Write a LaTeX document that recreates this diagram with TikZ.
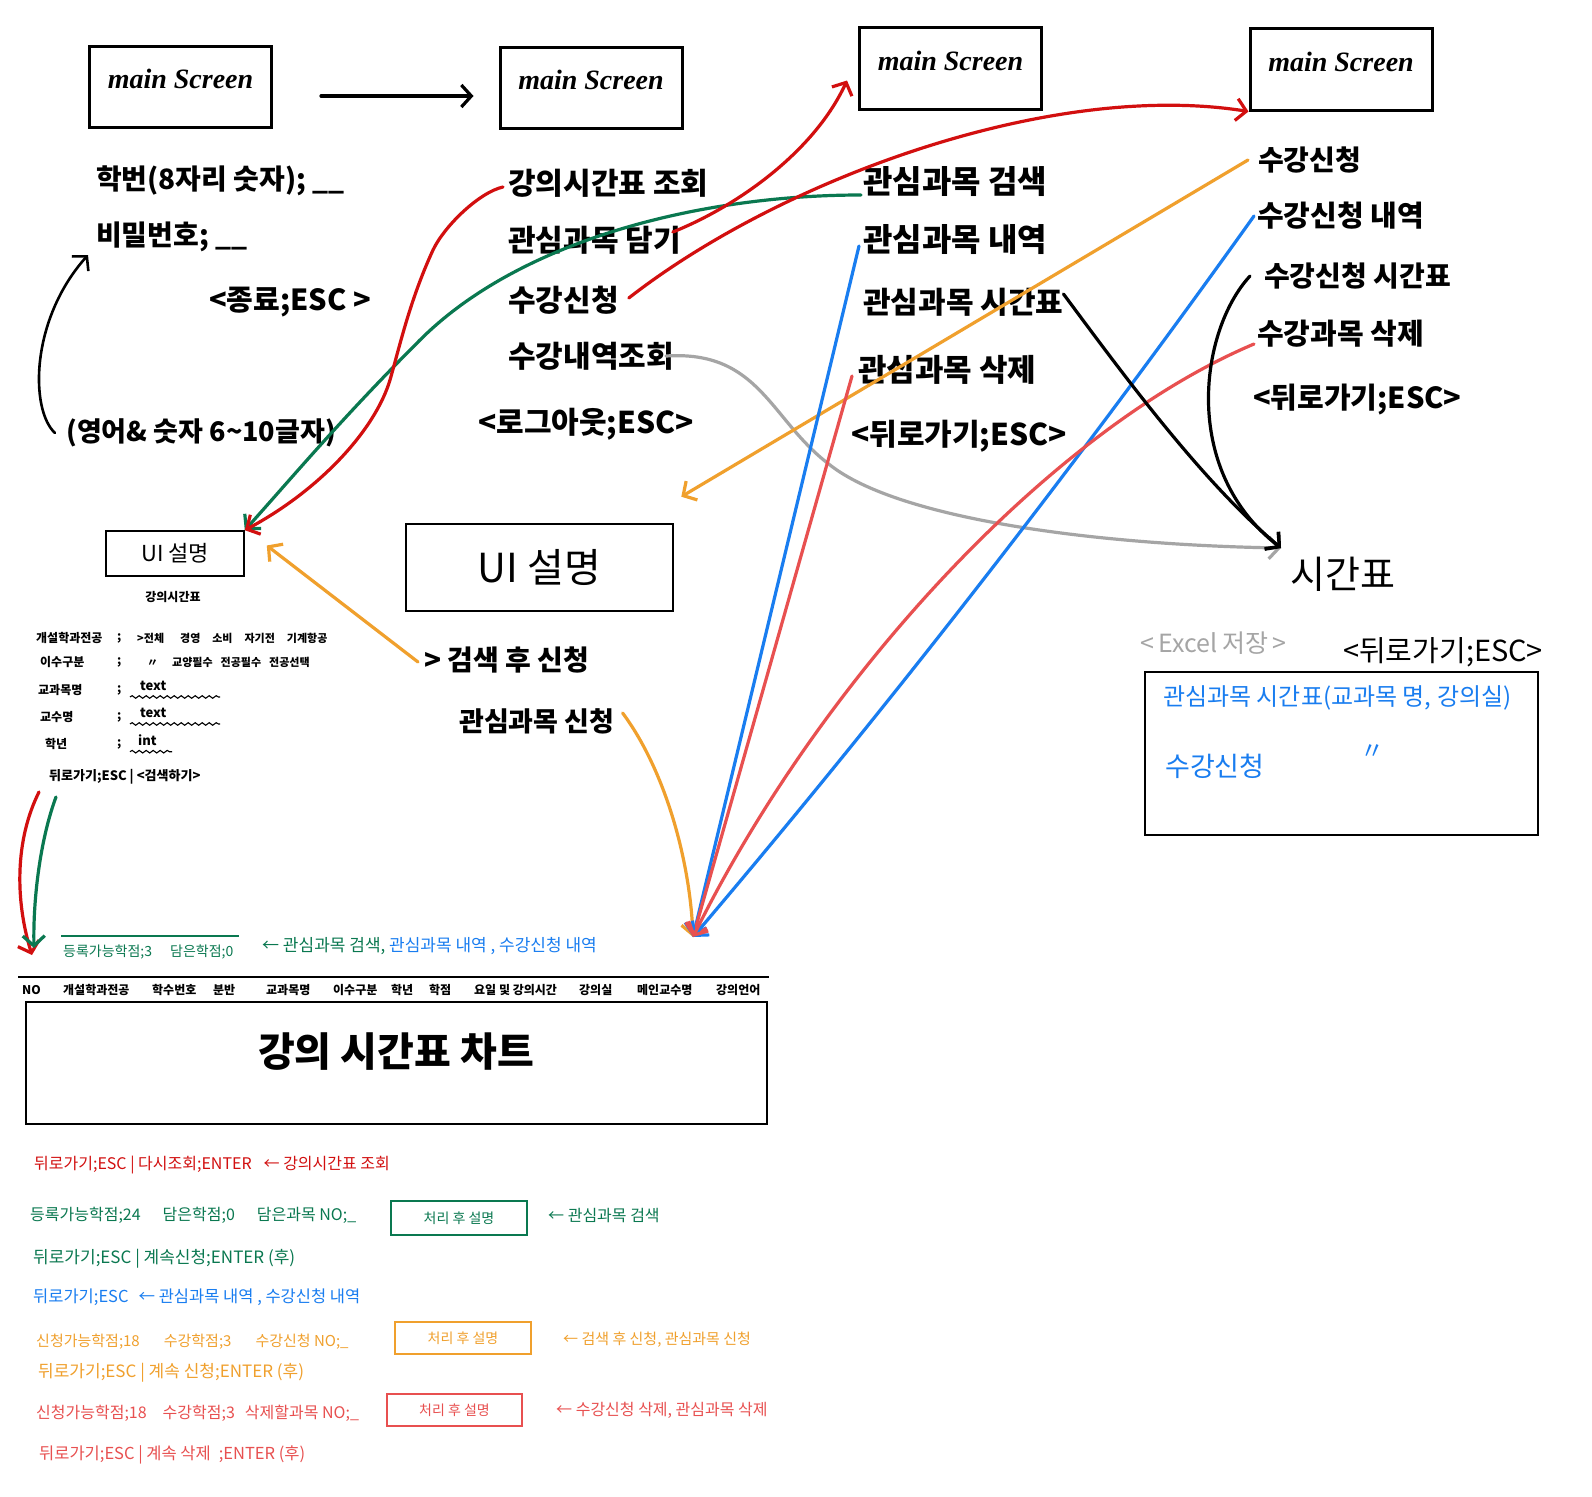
\documentclass[tikz,border=0pt]{standalone}
\usepackage{fontspec}
\setmainfont{Noto Sans CJK KR}
\newfontfamily\scrfont{Liberation Serif}
\usetikzlibrary{arrows.meta,decorations.pathmorphing}
\definecolor{dred}{HTML}{D20F0F}
\definecolor{grn}{HTML}{0A7850}
\definecolor{blu}{HTML}{197DF0}
\definecolor{org}{HTML}{F0A02D}
\definecolor{sal}{HTML}{E85050}
\definecolor{gry}{HTML}{A5A5A5}
\begin{document}
\begin{tikzpicture}[x=1pt,y=-1pt,
  txt/.style={inner sep=0pt,anchor=west},
  fs/.style={font=\fontsize{#1}{#1}\selectfont},
  fsb/.style={font=\fontsize{#1}{#1}\selectfont\bfseries},
  scrbox/.style={draw,line width=3pt,minimum width=182pt,minimum height=80pt,inner sep=0pt,font=\scrfont\fontsize{28}{30}\selectfont\bfseries\itshape},
  conn/.style={line width=3.2pt,line cap=round,-{Straight Barb[length=10pt,width=22pt]}},
  thinbox/.style={draw,line width=1.6pt,inner sep=0pt},
  wavy/.style={line width=1.1pt,decorate,decoration={snake,amplitude=1.3pt,segment length=7pt}},
]
\fill[white] (0,0) rectangle (1592,1496);
\useasboundingbox (0,0) rectangle (1592,1496);

% ---------- main screens ----------
\node[scrbox] (s1) at (180.5,87) {\raisebox{16pt}{main Screen}};
\node[scrbox] (s2) at (591,88) {\raisebox{16pt}{main Screen}};
\node[scrbox,minimum height=81pt] (s3) at (950.5,68.5) {\raisebox{16pt}{main Screen}};
\node[scrbox,minimum height=81pt] (s4) at (1341,69.5) {\raisebox{16pt}{main Screen}};

% ---------- login ----------
\node[txt,fsb=28] (l1) at (96,181) {학번(8자리 숫자); \_\_};
\node[txt,fsb=28] (l2) at (96,237) {비밀번호; \_\_};
\node[fsb=29,inner sep=0pt] (l3) at (290,302) {<종료;ESC >};
\node[txt,fsb=27] (l4) at (66,433) {(영어\& 숫자 6\textasciitilde10글자)};

% ---------- screen 2 menu ----------
\node[txt,fsb=30] (m2a) at (508,183) {강의시간표 조회};
\node[txt,fsb=30] (m2b) at (508,240) {관심과목 담기};
\node[txt,fsb=30] (m2c) at (508,300) {수강신청};
\node[txt,fsb=30] (m2d) at (508,356) {수강내역조회};
\node[txt,fsb=30] (m2e) at (478,424) {<로그아웃;ESC>};

% ---------- screen 3 menu ----------
\node[txt,fsb=32] (m3a) at (863,182) {관심과목 검색};
\node[txt,fsb=32] (m3b) at (863,240) {관심과목 내역};
\node[txt,fsb=30] (m3c) at (863,302) {관심과목 시간표};
\node[txt,fsb=31] (m3d) at (858,370) {관심과목 삭제};
\node[txt,fsb=30] (m3e) at (851,436) {<뒤로가기;ESC>};

% ---------- screen 4 menu ----------
\node[txt,fsb=28] (m4a) at (1258,160) {수강신청};
\node[txt,fsb=29] (m4b) at (1257,216) {수강신청 내역};
\node[txt,fsb=28] (m4c) at (1264,276) {수강신청 시간표};
\node[txt,fsb=29] (m4d) at (1257,334) {수강과목 삭제};
\node[txt,fsb=29] (m4e) at (1253,400) {<뒤로가기;ESC>};

% ---------- timetable screen ----------
\node[txt,fs=38] (tt) at (1290,574) {시간표};
\coordinate (ttip) at ([xshift=-9pt,yshift=26pt]tt.west);
\node[txt,fs=25,text=gry] (ex) at (1140,643) {<\,Excel 저장\,>};
\node[txt,fs=29] (tb) at (1343,652) {<뒤로가기;ESC>};
\node[draw,line width=2.6pt,minimum width=393pt,minimum height=163pt,inner sep=0pt] (tbox) at (1341.5,753.5) {};
\node[txt,fs=24,text=blu] (bt1) at (1163,698) {관심과목 시간표(교과목 명, 강의실)};
\node[txt,fs=27,text=blu] (bt2) at (1165,766) {수강신청};
\node[txt,fs=24,text=blu] (bt3) at (1360,752) {〃};

% ---------- small UI box ----------
\node[thinbox,minimum width=138pt,minimum height=45pt,fs=22] (ui1) at (175,553.5) {UI 설명};
\node[fsb=12,inner sep=0pt] (ui1t) at (173,597) {강의시간표};
\node[txt,fsb=12] (t1) at (36,638) {개설학과전공};
\node[txt,fsb=12] (t1s) at (117,638) {;};
\node[txt,fsb=11] (t1v) at (137,638) {>전체\hspace{16pt}경영\hspace{12pt}소비\hspace{12pt}자기전\hspace{12pt}기계항공};
\node[txt,fsb=12] (t2) at (40,662) {이수구분};
\node[txt,fsb=12] (t2s) at (117,662) {;};
\node[txt,fsb=11] (t2v) at (147,662) {〃\hspace{14pt}교양필수\hspace{8pt}전공필수\hspace{8pt}전공선택};
\node[txt,fsb=12] (t3) at (38,690) {교과목명};
\node[txt,fsb=12] (t3s) at (117,690) {;};
\node[txt,fsb=13] (t3v) at (140,686) {text};
\node[txt,fsb=12] (t4) at (40,717) {교수명};
\node[txt,fsb=12] (t4s) at (117,717) {;};
\node[txt,fsb=13] (t4v) at (140,713) {text};
\node[txt,fsb=12] (t5) at (45,744) {학년};
\node[txt,fsb=12] (t5s) at (117,744) {;};
\node[txt,fsb=13] (t5v) at (138,740) {int};
\node[txt,fsb=13] (r6) at (49,777) {뒤로가기;ESC | <검색하기>};
\draw[wavy] ([xshift=-10pt,yshift=-6pt]t3v.south west) -- ++(90,0);
\draw[wavy] ([xshift=-10pt,yshift=-6pt]t4v.south west) -- ++(90,0);
\draw[wavy] ([xshift=-8pt,yshift=-6pt]t5v.south west) -- ++(42,0);

% ---------- big UI box ----------
\node[draw,line width=2.6pt,minimum width=267pt,minimum height=87pt,inner sep=0pt,fs=40] (ui2) at (539.5,567.5) {UI 설명};
\node[txt,fsb=28] (o1) at (424,660) {> 검색 후 신청};
\node[txt,fsb=27] (o2) at (459,721) {관심과목 신청};

% ---------- bottom table ----------
\coordinate (conv) at (693,937);
\draw[grn,line width=1.6pt] (61,936) -- (239,936);
\node[txt,fs=14,text=grn] (g0) at (63,952) {등록가능학점;3\hspace{18pt}담은학점;0};
\node[txt,fs=17,text=blu] (g0b) at (262,946) {{\color{grn}← 관심과목 검색,} 관심과목 내역 , 수강신청 내역};
\draw[line width=2.5pt] (18,977) -- (769,977);
\node[txt,fsb=12] (h1) at (22,990) {\itshape NO};
\node[txt,fsb=12] (h2) at (63,990) {개설학과전공};
\node[txt,fsb=12] (h3) at (152,990) {학수번호};
\node[txt,fsb=12] (h4) at (213,990) {분반};
\node[txt,fsb=12] (h5) at (266,990) {교과목명};
\node[txt,fsb=12] (h6) at (333,990) {이수구분};
\node[txt,fsb=12] (h7) at (391,990) {학년};
\node[txt,fsb=12] (h8) at (429,990) {학점};
\node[txt,fsb=12] (h9) at (474,990) {요일 및 강의시간};
\node[txt,fsb=12] (h10) at (579,990) {강의실};
\node[txt,fsb=12] (h11) at (637,990) {메인교수명};
\node[txt,fsb=12] (h12) at (716,990) {강의언어};
\node[draw,line width=1.6pt,minimum width=741pt,minimum height=122pt,inner sep=0pt] (cb) at (396.5,1063) {};
\node[fsb=40,inner sep=0pt] (cbt) at (396,1052) {강의 시간표 차트};

% ---------- bottom notes ----------
\node[txt,fs=16,text=dred] (rd1) at (34,1165) {뒤로가기;ESC | 다시조회;ENTER\hspace{12pt}← 강의시간표 조회};
\node[txt,fs=16,text=grn] (gn1) at (30,1215) {등록가능학점;24\hspace{22pt}담은학점;0\hspace{22pt}담은과목 NO;\_};
\node[thinbox,draw=grn,text=grn,fs=14,minimum width=136pt,minimum height=34pt] (gb1) at (459,1218) {처리 후 설명};
\node[txt,fs=16,text=grn] (gn1r) at (548,1215) {← 관심과목 검색};
\node[txt,fs=17,text=grn] (gn2) at (33,1259) {뒤로가기;ESC | 계속신청;ENTER (후)};
\node[txt,fs=16.5,text=blu] (bl1) at (33,1297) {뒤로가기;ESC\hspace{10pt}← 관심과목 내역 , 수강신청 내역};
\node[txt,fs=15,text=org] (or1) at (36,1342) {신청가능학점;18\hspace{24pt}수강학점;3\hspace{24pt}수강신청 NO;\_};
\node[thinbox,draw=org,text=org,fs=14,minimum width=136pt,minimum height=32pt] (ob1) at (463,1338) {처리 후 설명};
\node[txt,fs=15,text=org] (or1r) at (563,1340) {← 검색 후 신청, 관심과목 신청};
\node[txt,fs=17,text=org] (or2) at (38,1373) {뒤로가기;ESC | 계속 신청;ENTER (후)};
\node[txt,fs=16,text=sal] (sa1) at (36,1413) {신청가능학점;18\hspace{16pt}수강학점;3\hspace{10pt}삭제할과목 NO;\_};
\node[thinbox,draw=sal,text=sal,fs=14,minimum width=135pt,minimum height=32pt] (sb1) at (454.5,1410) {처리 후 설명};
\node[txt,fs=16,text=sal] (sa1r) at (556,1410) {← 수강신청 삭제, 관심과목 삭제};
\node[txt,fs=16.5,text=sal] (sa2) at (39,1455) {뒤로가기;ESC | 계속 삭제\hspace{8pt};ENTER (후)};

% ---------- connectors ----------
\draw[conn] ([xshift=48pt,yshift=-9pt]s1.east) -- ([xshift=-25pt,yshift=-8pt]s2.west);
\draw[conn,line width=2.6pt] ([xshift=-11pt]l4.west) .. controls (30,410) and (30,320) .. ([xshift=-8pt,yshift=-18pt]l2.west);

\draw[conn,gry] ([xshift=-8pt]m2d.east) .. controls (760,350) and (770,420) .. (830,465) .. controls (900,520) and (1100,545) .. (ttip);
\draw[conn,grn] ([xshift=-2pt,yshift=-13pt]m3a.west) .. controls (700,195) and (520,240) .. (420,340) .. controls (340,420) and (290,480) .. (ui1.north east);
\draw[conn,dred] ([xshift=-5pt,yshift=-4pt]m2a.west) .. controls (480,192) and (445,225) .. (433,250) .. controls (410,300) and (400,345) .. (390,380) .. controls (375,430) and (320,490) .. (ui1.north east);
\draw[conn,dred] ([xshift=-8pt,yshift=8pt]m2b.east) .. controls (740,205) and (815,150) .. ([xshift=-11pt,yshift=-12pt]s3.west);
\draw[conn,dred] ([xshift=10pt,yshift=2pt]m2c.east) .. controls (780,180) and (1050,80) .. (s4.south west);
\draw[conn,org] ([xshift=-10pt]m4a.west) -- ([xshift=7pt,yshift=26pt]ui2.north east);
\draw[conn,org] ([xshift=-6pt,yshift=-2pt]o1.west) -- ([xshift=22pt,yshift=8pt]ui1.east);
\draw[conn,org] ([xshift=8pt,yshift=8pt]o2.east) .. controls (665,770) and (690,860) .. (conv);
\draw[conn,blu] ([xshift=-4pt,yshift=-6pt]m3b.west) -- (conv);
\draw[conn,sal] ([xshift=-6pt,yshift=-6pt]m3d.west) -- (conv);
\draw[conn,blu] ([xshift=-3pt]m4b.west) .. controls (1077,464) and (890,705) .. (conv);
\draw[conn,sal] ([xshift=-3pt,yshift=-10pt]m4d.west) .. controls (1050,430) and (820,680) .. (conv);
\draw[conn] ([yshift=8pt]m3c.east) .. controls (1120,370) and (1200,480) .. (ttip);
\draw[conn] ([xshift=-14pt]m4c.west) .. controls (1200,330) and (1180,470) .. (ttip);
\draw[conn,dred] ([xshift=-10pt,yshift=-15pt]r6.west) .. controls (15,840) and (15,900) .. ([xshift=-31pt,yshift=-3pt]g0.west);
\draw[conn,grn] ([xshift=7pt,yshift=-20pt]r6.west) .. controls (40,840) and (33,900) .. ([xshift=-29pt,yshift=4pt]g0.west);
\end{tikzpicture}
\end{document}
